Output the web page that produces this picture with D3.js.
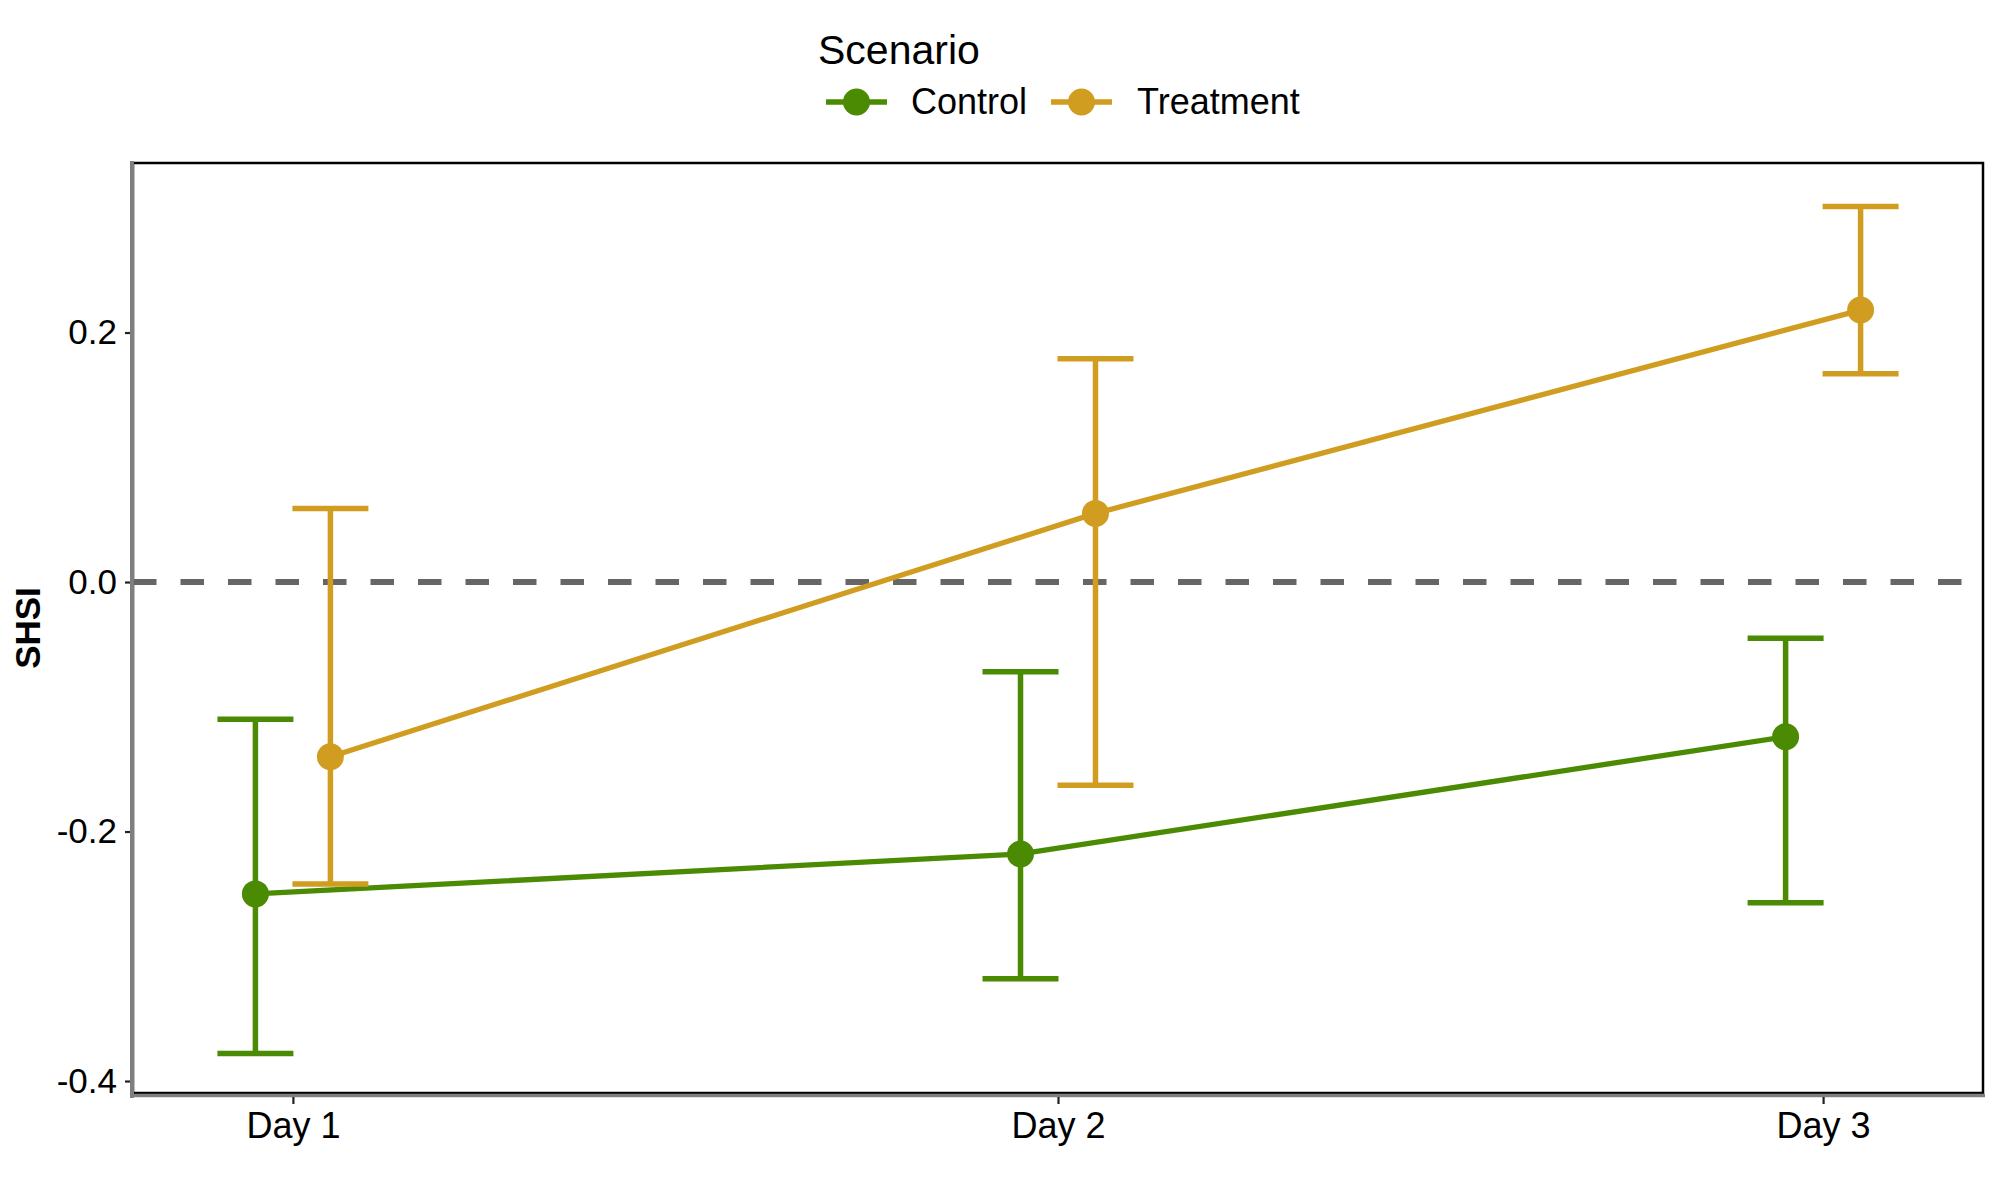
<!DOCTYPE html>
<html>
<head>
<meta charset="utf-8">
<script src="https://cdn.jsdelivr.net/npm/d3@7"></script>
<style>
  html, body { margin: 0; padding: 0; background: #fff; }
  svg { display: block; }
  text { font-family: "Liberation Sans", Arial, sans-serif; }
</style>
</head>
<body>
<script>
// ---- Data ----
const days = ["Day 1", "Day 2", "Day 3"];
const scenarios = ["Control", "Treatment"];
const controlMean  = [-0.250, -0.218, -0.124];
const controlLower = [-0.378, -0.318, -0.257];
const controlUpper = [-0.110, -0.072, -0.045];
const treatMean  = [-0.140, 0.055, 0.218];
const treatLower = [-0.242, -0.163, 0.167];
const treatUpper = [0.059, 0.179, 0.301];
const yTicks = [-0.4, -0.2, 0.0, 0.2];
const colors = ["#4B8B03", "#D19D20"];

const W = 2000, H = 1200;
const panel = { left: 133, right: 1983, top: 163, bottom: 1093 };

const svg = d3.select("body").append("svg").attr("width", W).attr("height", H);

const x = d3.scaleLinear().domain([0.791, 3.209]).range([panel.left, panel.right]);
const y = d3.scaleLinear().domain([-0.4096, 0.3359]).range([panel.bottom, panel.top]);
const dodge = d3.scaleOrdinal().domain(scenarios).range([-0.049, 0.049]);
const color = d3.scaleOrdinal().domain(scenarios).range(colors);

const series = [
  { name: "Control", mean: controlMean, lower: controlLower, upper: controlUpper },
  { name: "Treatment", mean: treatMean, lower: treatLower, upper: treatUpper }
].map(s => ({
  name: s.name,
  pts: days.map((d, i) => ({ day: d, xi: i + 1 + dodge(s.name), m: s.mean[i], lo: s.lower[i], hi: s.upper[i] }))
}));

// panel border
svg.append("rect")
  .attr("x", panel.left).attr("y", panel.top)
  .attr("width", panel.right - panel.left).attr("height", panel.bottom - panel.top)
  .attr("fill", "none").attr("stroke", "#000").attr("stroke-width", 2.5);

// dashed zero line
svg.append("line")
  .attr("x1", panel.left).attr("x2", panel.right)
  .attr("y1", y(0)).attr("y2", y(0))
  .attr("stroke", "#666666").attr("stroke-width", 6)
  .attr("stroke-dasharray", "23.5,24");

const plot = svg.append("g");

// lines
const line = d3.line().x(d => x(d.xi)).y(d => y(d.m));
series.forEach(s => {
  plot.append("path").datum(s.pts)
    .attr("d", line).attr("fill", "none")
    .attr("stroke", color(s.name)).attr("stroke-width", 5.3);
});

// error bars
const capHalf = 38;
series.forEach(s => {
  const g = plot.append("g").attr("stroke", color(s.name)).attr("stroke-width", 5.5);
  s.pts.forEach(p => {
    g.append("line").attr("x1", x(p.xi)).attr("x2", x(p.xi)).attr("y1", y(p.lo)).attr("y2", y(p.hi));
    g.append("line").attr("x1", x(p.xi) - capHalf).attr("x2", x(p.xi) + capHalf).attr("y1", y(p.lo)).attr("y2", y(p.lo));
    g.append("line").attr("x1", x(p.xi) - capHalf).attr("x2", x(p.xi) + capHalf).attr("y1", y(p.hi)).attr("y2", y(p.hi));
  });
});

// points
series.forEach(s => {
  plot.selectAll(null).data(s.pts).enter().append("circle")
    .attr("cx", d => x(d.xi)).attr("cy", d => y(d.m)).attr("r", 13.5)
    .attr("fill", color(s.name));
});

// axis lines (gray)
svg.append("line").attr("x1", 132).attr("x2", 132).attr("y1", panel.top - 2).attr("y2", panel.bottom + 5)
  .attr("stroke", "#7f7f7f").attr("stroke-width", 4);
svg.append("line").attr("x1", 130).attr("x2", panel.right + 2).attr("y1", 1095.5).attr("y2", 1095.5)
  .attr("stroke", "#7f7f7f").attr("stroke-width", 3.5);

// y axis
const yAxis = d3.axisLeft(y).tickValues(yTicks).tickFormat(d3.format(".1f")).tickSize(5).tickPadding(8);
const gy = svg.append("g").attr("transform", `translate(130,0)`).call(yAxis);
gy.select(".domain").remove();
gy.selectAll(".tick line").attr("stroke", "#222").attr("stroke-width", 2.2);
gy.selectAll(".tick text").attr("font-size", 35).attr("fill", "#000")
  .attr("font-family", "Liberation Sans, Arial, sans-serif")
  .text(d => d.toFixed(1).replace("-0.0", "0.0"));

// x axis
const xAxis = d3.axisBottom(x).tickValues([1, 2, 3]).tickFormat(d => days[d - 1]).tickSize(7).tickPadding(8);
const gx = svg.append("g").attr("transform", `translate(0,1097)`).call(xAxis);
gx.select(".domain").remove();
gx.selectAll(".tick line").attr("stroke", "#222").attr("stroke-width", 2.2);
gx.selectAll(".tick text").attr("font-size", 36).attr("fill", "#000")
  .attr("font-family", "Liberation Sans, Arial, sans-serif");

// y label
svg.append("text")
  .attr("transform", `translate(40,${(panel.top + panel.bottom) / 2}) rotate(-90)`)
  .attr("text-anchor", "middle")
  .attr("font-size", 35).attr("font-weight", "bold").attr("fill", "#000")
  .text("SHSI");

// legend
svg.append("text").attr("x", 818).attr("y", 64).attr("font-size", 41).attr("fill", "#000").text("Scenario");
const legendItems = [
  { name: "Control", x0: 826, tx: 911 },
  { name: "Treatment", x0: 1051, tx: 1137 }
];
legendItems.forEach(it => {
  svg.append("line").attr("x1", it.x0).attr("x2", it.x0 + 61).attr("y1", 102).attr("y2", 102)
    .attr("stroke", color(it.name)).attr("stroke-width", 5.5);
  svg.append("circle").attr("cx", it.x0 + 30.5).attr("cy", 102).attr("r", 13.5).attr("fill", color(it.name));
  svg.append("text").attr("x", it.tx).attr("y", 114).attr("font-size", 36).attr("fill", "#000").text(it.name);
});
</script>
</body>
</html>
